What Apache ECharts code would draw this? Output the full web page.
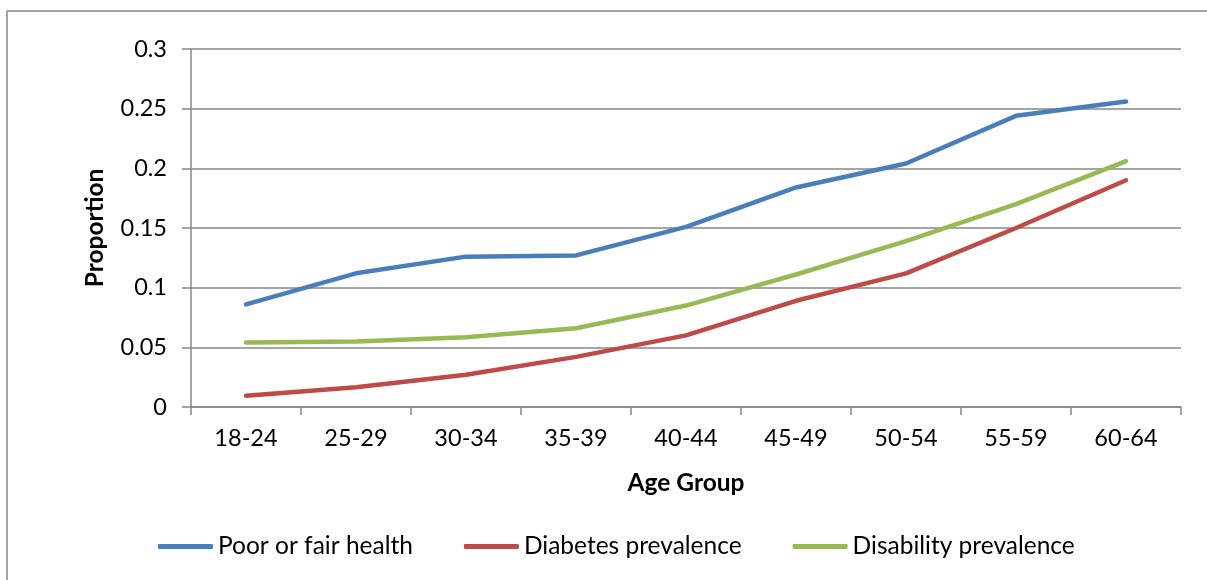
<!DOCTYPE html>
<html>
<head>
<meta charset="utf-8">
<script src="https://cdn.jsdelivr.net/npm/echarts@6/dist/echarts.min.js"></script>
<style>
  html, body { margin: 0; padding: 0; background: #fff; }
  #chart { width: 1207px; height: 580px; }
</style>
</head>
<body>
<div id="chart"></div>
<script>
// Age bands on the horizontal axis
const ageGroups = ['18-24', '25-29', '30-34', '35-39', '40-44', '45-49', '50-54', '55-59', '60-64'];

// Proportion of adults in each age band
const poorOrFairHealth = [0.086, 0.112, 0.126, 0.127, 0.151, 0.184, 0.204, 0.244, 0.256];
const diabetesPrevalence = [0.0095, 0.0165, 0.027, 0.042, 0.060, 0.089, 0.112, 0.150, 0.190];
const disabilityPrevalence = [0.054, 0.0548, 0.0585, 0.066, 0.085, 0.111, 0.139, 0.170, 0.206];

const seriesNames = ['Poor or fair health', 'Diabetes prevalence', 'Disability prevalence'];
const seriesColors = ['#4A7EBB', '#BE4B48', '#98B954'];

const FONT = 'Lato, "Open Sans", sans-serif';
const GRID_GRAY = '#878787';

const chart = echarts.init(document.getElementById('chart'), null, { renderer: 'canvas' });

function lineSeries(name, data, color) {
  return {
    name: name,
    type: 'line',
    data: data,
    symbol: 'none',
    smooth: false,
    lineStyle: { color: color, width: 4.5, cap: 'round', join: 'round' },
    itemStyle: { color: color }
  };
}

chart.setOption({
  animation: false,
  backgroundColor: '#fff',
  textStyle: { fontFamily: FONT },
  // chart-area frame: top and left edges (the rest runs off the canvas)
  graphic: [
    {
      type: 'line',
      shape: { x1: 7, y1: 11, x2: 1207, y2: 11 },
      style: { stroke: GRID_GRAY, lineWidth: 1.5 },
      silent: true
    },
    {
      type: 'line',
      shape: { x1: 7, y1: 11, x2: 7, y2: 580 },
      style: { stroke: GRID_GRAY, lineWidth: 1.5 },
      silent: true
    }
  ],
  grid: { left: 191, right: 26, top: 49, bottom: 173, containLabel: false },
  legend: {
    bottom: 16,
    left: 153,
    itemWidth: 55,
    itemHeight: 5,
    itemGap: 51,
    icon: 'roundRect',
    textStyle: { fontFamily: FONT, fontSize: 24.5, color: '#000', padding: [0, 0, 0, 0] },
    data: seriesNames
  },
  xAxis: {
    type: 'category',
    data: ageGroups,
    boundaryGap: true,
    name: 'Age Group',
    nameLocation: 'middle',
    nameGap: 64,
    nameTextStyle: { fontFamily: FONT, fontSize: 24.5, fontWeight: 'bold', color: '#000' },
    axisLine: { lineStyle: { color: GRID_GRAY, width: 1.5 } },
    axisTick: { show: true, length: 8, lineStyle: { color: GRID_GRAY, width: 1.5 } },
    axisLabel: { fontFamily: FONT, fontSize: 23.5, color: '#000', margin: 19 }
  },
  yAxis: {
    type: 'value',
    min: 0,
    max: 0.3,
    interval: 0.05,
    name: 'Proportion',
    nameLocation: 'middle',
    nameGap: 83,
    nameRotate: 90,
    nameTextStyle: { fontFamily: FONT, fontSize: 24.5, fontWeight: 'bold', color: '#000' },
    axisLine: { show: true, lineStyle: { color: GRID_GRAY, width: 1.5 } },
    axisTick: { show: true, length: 9, lineStyle: { color: GRID_GRAY, width: 1.5 } },
    splitLine: { show: true, lineStyle: { color: GRID_GRAY, width: 1.5 } },
    axisLabel: { fontFamily: FONT, fontSize: 23.5, color: '#000', margin: 24 }
  },
  series: [
    lineSeries(seriesNames[0], poorOrFairHealth, seriesColors[0]),
    lineSeries(seriesNames[1], diabetesPrevalence, seriesColors[1]),
    lineSeries(seriesNames[2], disabilityPrevalence, seriesColors[2])
  ]
});
</script>
</body>
</html>
